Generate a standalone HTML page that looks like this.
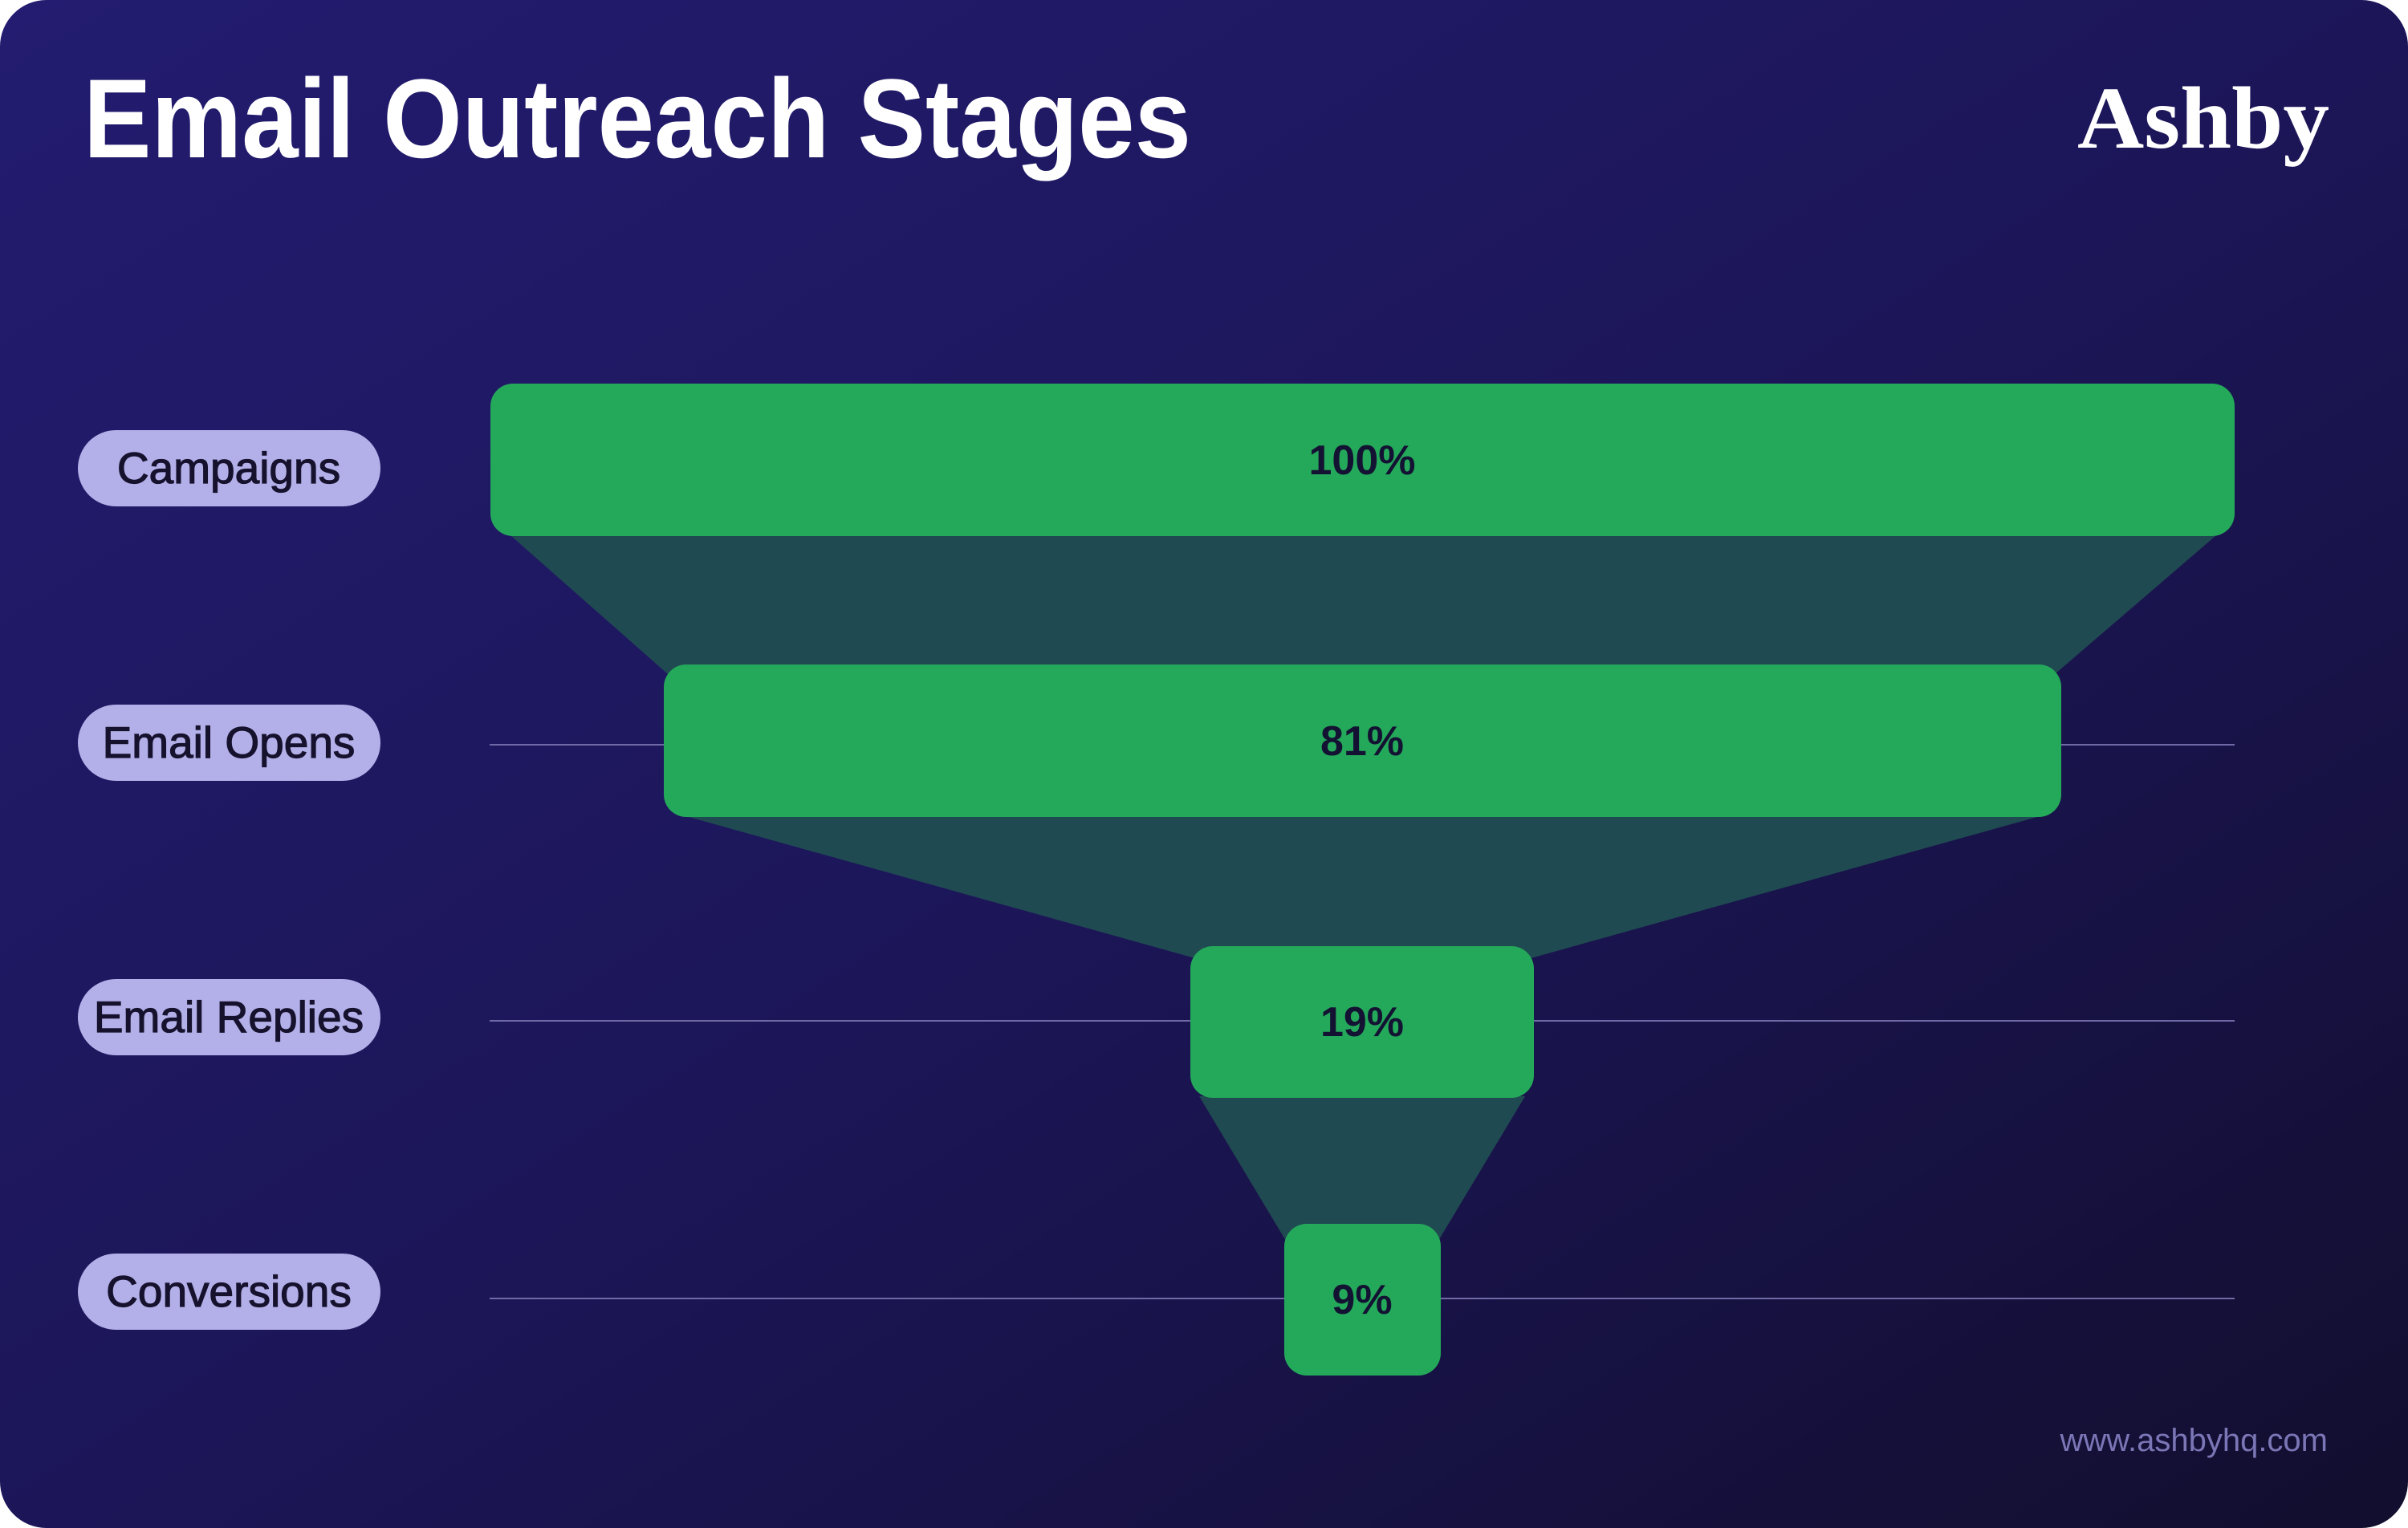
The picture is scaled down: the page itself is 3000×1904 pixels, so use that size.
<!DOCTYPE html>
<html><head><meta charset="utf-8"><style>
html,body{margin:0;padding:0;background:#fff;}
svg{display:block;}
text{font-family:"Liberation Sans",sans-serif;}
</style></head><body>
<svg width="3000" height="1904" viewBox="0 0 3000 1904" xmlns="http://www.w3.org/2000/svg">
<defs>
<linearGradient id="bg" x1="0" y1="0" x2="1" y2="1">
<stop offset="0" stop-color="#231c70"/>
<stop offset="0.5" stop-color="#1c1659"/>
<stop offset="1" stop-color="#120e2e"/>
</linearGradient>
</defs>
<rect x="0" y="0" width="3000" height="1904" rx="58" fill="url(#bg)"/>
<text x="104" y="196" font-size="140" font-weight="bold" fill="#fff" textLength="1380" lengthAdjust="spacingAndGlyphs">Email Outreach Stages</text>
<text x="2902" y="184" font-size="110" font-weight="bold" fill="#fff" text-anchor="end" style="font-family:'Liberation Serif',serif" textLength="314" lengthAdjust="spacingAndGlyphs">Ashby</text>
<text x="2900" y="1808" font-size="40" fill="#7b76b6" text-anchor="end">www.ashbyhq.com</text>
<g stroke="#6f6aa6" stroke-width="2">
<line x1="610" y1="928" x2="2784" y2="928"/>
<line x1="610" y1="1272" x2="2784" y2="1272"/>
<line x1="610" y1="1618" x2="2784" y2="1618"/>
</g>
<g fill="#204a52">
<polygon points="637,668 2760,668 2560,840 832,840"/>
<polygon points="851,1016 2545,1016 1900,1196 1496,1196"/>
<polygon points="1494,1366 1900,1366 1792,1546 1602,1546"/>
</g>
<g fill="#24a95a">
<rect x="611" y="478" width="2173" height="190" rx="28"/>
<rect x="827" y="828" width="1741" height="190" rx="28"/>
<rect x="1483" y="1179" width="428" height="189" rx="28"/>
<rect x="1600" y="1525" width="195" height="189" rx="28"/>
</g>
<g font-size="52" font-weight="bold" fill="#141233" text-anchor="middle">
<text x="1697" y="591">100%</text>
<text x="1697" y="941">81%</text>
<text x="1697" y="1291">19%</text>
<text x="1697" y="1637">9%</text>
</g>
<g fill="#b3b0e9">
<rect x="97" y="536" width="377" height="95" rx="47.5"/>
<rect x="97" y="878" width="377" height="95" rx="47.5"/>
<rect x="97" y="1220" width="377" height="95" rx="47.5"/>
<rect x="97" y="1562" width="377" height="95" rx="47.5"/>
</g>
<g font-size="55" fill="#16122e" text-anchor="middle" stroke="#16122e" stroke-width="1.2">
<text x="285" y="602">Campaigns</text>
<text x="285" y="944">Email Opens</text>
<text x="285" y="1286">Email Replies</text>
<text x="285" y="1628">Conversions</text>
</g>
</svg>
</body></html>
